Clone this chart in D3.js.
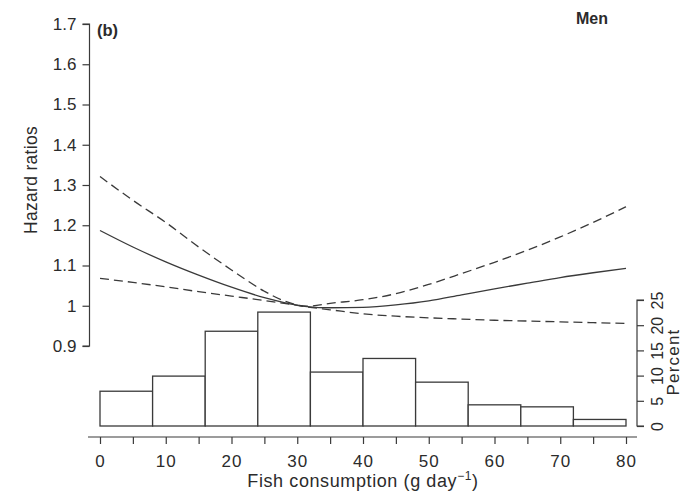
<!DOCTYPE html>
<html>
<head>
<meta charset="utf-8">
<script src="https://cdn.jsdelivr.net/npm/d3@7"></script>
<style>
  html, body { margin: 0; padding: 0; background: #fff; }
  svg { display: block; font-family: "Liberation Sans", Arial, Helvetica, sans-serif; }
</style>
</head>
<body>
<svg id="chart" width="684" height="498"></svg>
<script>
// ---- Data ----
const xValues      = [0, 5, 10, 15, 20, 25, 28, 31.5, 35, 40, 45, 50, 55, 60, 65, 70, 75, 80];
const hrEstimate   = [1.187, 1.146, 1.109, 1.076, 1.046, 1.020, 1.008, 0.998, 0.995, 0.996, 1.002, 1.012, 1.027, 1.042, 1.056, 1.070, 1.082, 1.093];
const hrUpper      = [1.321, 1.262, 1.207, 1.146, 1.089, 1.036, 1.012, 0.999, 1.006, 1.015, 1.030, 1.053, 1.080, 1.108, 1.138, 1.171, 1.207, 1.246];
const hrLower      = [1.068, 1.058, 1.047, 1.035, 1.024, 1.013, 1.006, 0.997, 0.990, 0.980, 0.974, 0.970, 0.967, 0.964, 0.962, 0.960, 0.958, 0.956];
const binStarts    = [0, 8, 16, 24, 32, 40, 48, 56, 64, 72];
const binWidth     = 8;
const binPercent   = [6.9, 9.9, 18.8, 22.6, 10.7, 13.4, 8.7, 4.2, 3.8, 1.3];
const hrTicks      = [0.9, 1, 1.1, 1.2, 1.3, 1.4, 1.5, 1.6, 1.7];
const xTicks       = [0, 5, 10, 15, 20, 25, 30, 35, 40, 45, 50, 55, 60, 65, 70, 75, 80];
const xTickLabels  = [0, 10, 20, 30, 40, 50, 60, 70, 80];
const pctTicks     = [0, 5, 10, 15, 20, 25];

// ---- Scales ----
const x = d3.scaleLinear().domain([0, 80]).range([100, 626]);
const yHR = d3.scaleLinear().domain([0.9, 1.7]).range([346, 24]);
const yPct = d3.scaleLinear().domain([0, 25]).range([426, 300]);

const svg = d3.select("#chart");
const ink = "#3a3a3a";
const textCol = "#2b2b2b";

// ---- Histogram ----
svg.append("g").selectAll("rect")
  .data(binStarts)
  .join("rect")
  .attr("x", (d) => x(d))
  .attr("width", () => x(binWidth) - x(0))
  .attr("y", (d, i) => yPct(binPercent[i]))
  .attr("height", (d, i) => yPct(0) - yPct(binPercent[i]))
  .attr("fill", "#fff")
  .attr("stroke", ink)
  .attr("stroke-width", 1.3);

// ---- Curves ----
const line = (arr) => d3.line()
  .x((d, i) => x(xValues[i]))
  .y((d) => yHR(d))
  .curve(d3.curveMonotoneX)(arr);

svg.append("path").attr("d", line(hrLower))
  .attr("fill", "none").attr("stroke", ink).attr("stroke-width", 1.3)
  .attr("stroke-dasharray", "9,5");
svg.append("path").attr("d", line(hrUpper))
  .attr("fill", "none").attr("stroke", ink).attr("stroke-width", 1.3)
  .attr("stroke-dasharray", "9,5");
svg.append("path").attr("d", line(hrEstimate))
  .attr("fill", "none").attr("stroke", ink).attr("stroke-width", 1.3);

// ---- Left axis ----
const leftAxis = svg.append("g")
  .attr("transform", "translate(89.5,0)")
  .call(d3.axisLeft(yHR).tickValues(hrTicks).tickSize(7).tickPadding(6)
    .tickFormat((d) => d3.format("")(+d.toFixed(1))));
leftAxis.select(".domain").attr("d", `M-7,${yHR(0.9)}H0V${yHR(1.7)}H-7`).attr("stroke", ink).attr("stroke-width", 1.2);
leftAxis.selectAll(".tick line").attr("stroke", ink).attr("stroke-width", 1.2);
leftAxis.selectAll(".tick text").attr("font-size", 17).attr("fill", textCol)
  .attr("font-family", "'Liberation Sans', Arial, sans-serif");

svg.append("text")
  .attr("transform", `translate(37,180) rotate(-90)`)
  .attr("text-anchor", "middle")
  .attr("font-size", 17.5).attr("letter-spacing", 0.3).attr("fill", textCol)
  .text("Hazard ratios");

// ---- Bottom axis ----
const bottomAxis = svg.append("g")
  .attr("transform", "translate(0,437)")
  .call(d3.axisBottom(x).tickValues(xTicks).tickSize(7).tickPadding(11)
    .tickFormat((d) => xTickLabels.includes(d) ? d : ""));
bottomAxis.select(".domain").attr("d", "M88,0H637").attr("stroke", ink).attr("stroke-width", 1.2);
bottomAxis.selectAll(".tick line").attr("stroke", ink).attr("stroke-width", 1.2);
bottomAxis.selectAll(".tick text").attr("font-size", 17).attr("letter-spacing", 1).attr("fill", textCol);

const xTitle = svg.append("text")
  .attr("x", x(40)).attr("y", 487)
  .attr("text-anchor", "middle")
  .attr("font-size", 18).attr("letter-spacing", 0.6).attr("fill", textCol);
xTitle.append("tspan").text("Fish consumption (g day");
xTitle.append("tspan").attr("font-size", 12).attr("dy", -7).text("\u22121");
xTitle.append("tspan").attr("dy", 7).text(")");

// ---- Right axis (Percent) ----
const rightAxis = svg.append("g")
  .attr("transform", "translate(637,0)")
  .call(d3.axisRight(yPct).tickValues(pctTicks).tickSize(7).tickPadding(0));
rightAxis.select(".domain").attr("d", `M7,${yPct(0)}H0V${yPct(25)}H7`).attr("stroke", ink).attr("stroke-width", 1.2);
rightAxis.selectAll(".tick line").attr("stroke", ink).attr("stroke-width", 1.2);
rightAxis.selectAll(".tick text")
  .attr("x", 0).attr("dy", null)
  .attr("transform", "translate(20,0) rotate(-90)")
  .attr("text-anchor", "middle")
  .attr("dominant-baseline", "central")
  .attr("font-size", 16).attr("fill", textCol);

svg.append("text")
  .attr("transform", `translate(679,362) rotate(-90)`)
  .attr("text-anchor", "middle")
  .attr("font-size", 17).attr("letter-spacing", 1.2).attr("fill", textCol)
  .text("Percent");

// ---- Panel labels ----
svg.append("text").attr("x", 97).attr("y", 36)
  .attr("font-size", 16.5).attr("font-weight", "bold").attr("fill", textCol).text("(b)");
svg.append("text").attr("x", 576).attr("y", 24)
  .attr("font-size", 16).attr("font-weight", "bold").attr("fill", textCol).text("Men");
</script>
</body>
</html>
